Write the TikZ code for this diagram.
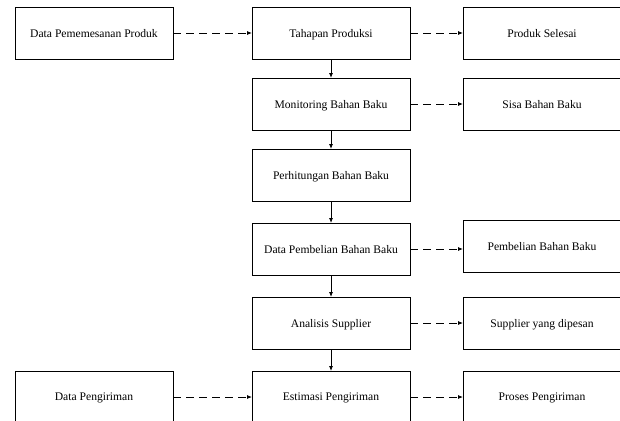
\documentclass[tikz,border=0pt]{standalone}
\usepackage{fontspec}
\setmainfont{Liberation Serif}
\usetikzlibrary{positioning,arrows.meta}

\tikzset{
	proses/.style={draw, line width=0.8pt, outer sep=0pt, minimum width=158pt, minimum height=52pt, inner sep=2pt, text depth=0pt, font=\fontsize{11.6}{14}\selectfont},
	alir/.style={-{Latex[length=5pt,width=4pt]}, line width=0.8pt},
	putus/.style={alir, dash pattern=on 8pt off 5pt},
}

\begin{document}
\begin{tikzpicture}[x=1pt,y=-1pt]
				\useasboundingbox (0,0) rectangle (620,420);
				
				\node[proses] (pesan) at (94,33) {Data Pememesanan Produk};
				\node[proses, right=79pt of pesan] (tahap) {Tahapan Produksi};
				\node[proses, right=53pt of tahap] (selesai) {Produk Selesai};
				
				\node[proses, below=19pt of tahap] (monitor) {Monitoring Bahan Baku};
				\node[proses, right=53pt of monitor] (sisa) {Sisa Bahan Baku};
				
				\node[proses, below=19pt of monitor] (hitung) {Perhitungan Bahan Baku};
				
				\node[proses, below=22pt of hitung] (databeli) {Data Pembelian Bahan Baku};
				\node[proses, right=53pt of databeli, yshift=3pt] (beli) {Pembelian Bahan Baku};
				
				\node[proses, below=22pt of databeli] (analisis) {Analisis Supplier};
				\node[proses, right=53pt of analisis] (supplier) {Supplier yang dipesan};
				
				\node[proses, below=22pt of analisis] (estimasi) {Estimasi Pengiriman};
				\node[proses, left=79pt of estimasi] (kirim) {Data Pengiriman};
				\node[proses, right=53pt of estimasi] (proses) {Proses Pengiriman};
				
				% alur utama
				\draw[alir] (tahap) -- (monitor);
				\draw[alir] (monitor) -- (hitung);
				\draw[alir] (hitung) -- (databeli);
				\draw[alir] (databeli) -- (analisis);
				\draw[alir] (analisis) -- (estimasi);
				
				% alur putus-putus
				\draw[putus] (pesan) -- (tahap);
				\draw[putus] (tahap) -- (selesai);
				\draw[putus] (monitor) -- (sisa);
				\draw[putus] (databeli.east) -- (databeli.east -| beli.west);
				\draw[putus] (analisis) -- (supplier);
				\draw[putus] (kirim) -- (estimasi);
				\draw[putus] (estimasi) -- (proses);
			\end{tikzpicture}
\end{document}
